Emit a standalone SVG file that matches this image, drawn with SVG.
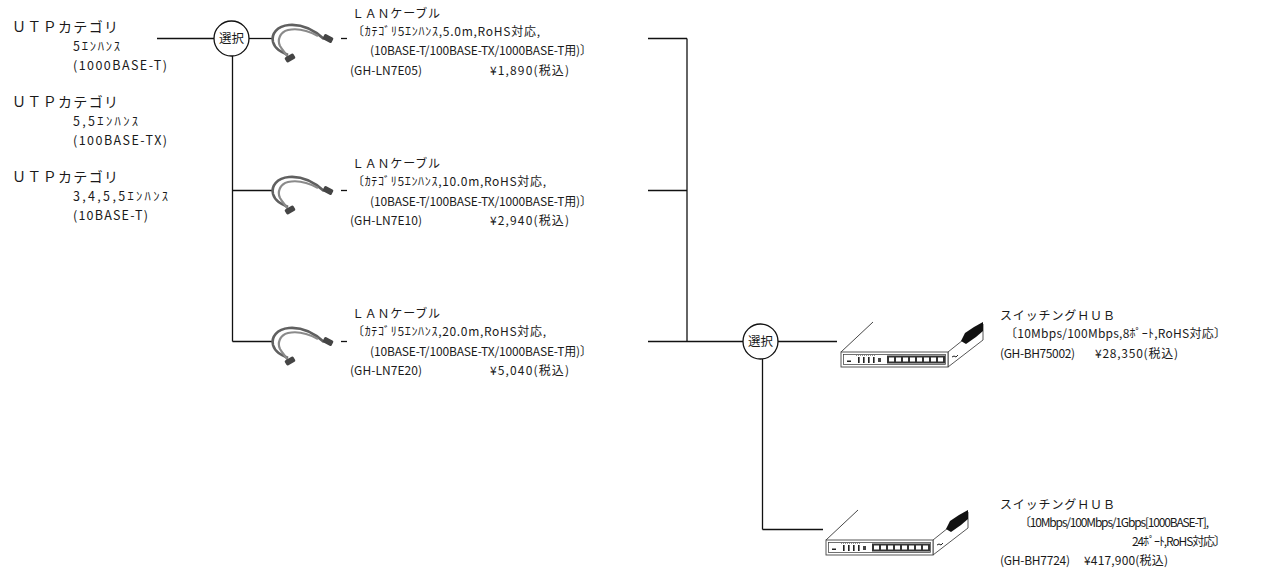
<svg xmlns="http://www.w3.org/2000/svg" width="1282" height="571" viewBox="0 0 1282 571">
<style>
  text { font-family: "Noto Sans CJK JP", "Noto Sans", sans-serif; fill: #1a1a1a; }
  .big { font-size: 14px; }
  .mid { font-size: 12.5px; }
  .sm { font-size: 12px; }
  .ln { stroke: #111; stroke-width: 1.3; fill: none; }
  .sel { fill: #fff; stroke: #111; stroke-width: 1.3; }
  .selt { font-size: 12.5px; text-anchor: middle; }
  .hb { fill: #fff; stroke: #444; stroke-width: 0.9; }
</style>
<defs>
  <filter id="soft" x="-10%" y="-10%" width="120%" height="120%">
    <feGaussianBlur stdDeviation="0.55"/>
  </filter>
  <g id="cableIcon" filter="url(#soft)">
    <path d="M324 39 C313 29 301 24 289 25 C277 26 271 34 273 42 C275 49 281 52 288 55" stroke="#606060" stroke-width="2.6" fill="none"/>
    <path d="M318 36 C307 30 297 28 288 30 C280 32 277 40 280 46 C283 51 287 55 289 59" stroke="#8a8a8a" stroke-width="2.2" fill="none"/>
    <rect x="323" y="35.5" width="10" height="6" rx="1.5" transform="rotate(28 328 38.5)" fill="#444"/>
    <rect x="285" y="55" width="10" height="6" rx="1.5" transform="rotate(-30 290 58)" fill="#444"/>
  </g>
  <g id="hubIcon">
    <line x1="841" y1="352" x2="873" y2="322" stroke="#333" stroke-width="0.9"/>
    <polygon class="hb" points="948,352 983,324 983,340 948,367"/>
    <polygon points="961,341 965,333 974,327 983,322 983,331 976,337 966,344" fill="#111"/>
    <path d="M952 357 l2 -1 l2 1 l2 -2" stroke="#222" stroke-width="1" fill="none"/>
    <rect class="hb" x="841" y="352" width="107" height="15"/>
    <rect x="843.5" y="354.5" width="102" height="10" fill="none" stroke="#333" stroke-width="0.7"/>
    <rect x="847" y="360.5" width="4" height="1.5" fill="#222"/>
    <line x1="856" y1="355.5" x2="876" y2="355.5" stroke="#777" stroke-width="0.8" stroke-dasharray="1 1"/>
    <rect x="858" y="357" width="1.6" height="6" fill="#222"/>
    <rect x="863" y="357" width="1.6" height="6" fill="#222"/>
    <rect x="868" y="357" width="1.6" height="6" fill="#222"/>
    <rect x="873" y="357" width="1.6" height="6" fill="#222"/>
    <rect x="878" y="358" width="3" height="4" fill="#444"/>
    <rect x="887" y="355.5" width="58" height="8" fill="#333"/>
    <g fill="#fff">
      <rect x="889" y="357.5" width="5" height="4"/>
      <rect x="896" y="357.5" width="5" height="4"/>
      <rect x="903" y="357.5" width="5" height="4"/>
      <rect x="910" y="357.5" width="5" height="4"/>
      <rect x="917" y="357.5" width="5" height="4"/>
      <rect x="924" y="357.5" width="5" height="4"/>
      <rect x="931" y="357.5" width="5" height="4"/>
      <rect x="938" y="357.5" width="5" height="4"/>
    </g>
  </g>
</defs>

<g id="connectors">
  <line class="ln" x1="157" y1="38.5" x2="214" y2="38.5"/>
  <line class="ln" x1="249" y1="38.5" x2="272" y2="38.5"/>
  <line class="ln" x1="341" y1="38.5" x2="347" y2="38.5"/>
  <line class="ln" x1="232.5" y1="55" x2="232.5" y2="341.5"/>
  <line class="ln" x1="232.5" y1="190.5" x2="272" y2="190.5"/>
  <line class="ln" x1="341" y1="190.5" x2="347" y2="190.5"/>
  <line class="ln" x1="232.5" y1="341.5" x2="272" y2="341.5"/>
  <line class="ln" x1="341" y1="341.5" x2="347" y2="341.5"/>
  <line class="ln" x1="648" y1="38.5" x2="687" y2="38.5"/>
  <line class="ln" x1="648" y1="190.5" x2="687" y2="190.5"/>
  <line class="ln" x1="687" y1="38.5" x2="687" y2="341.5"/>
  <line class="ln" x1="648" y1="341.5" x2="743" y2="341.5"/>
  <line class="ln" x1="778" y1="341.5" x2="837" y2="341.5"/>
  <line class="ln" x1="762.5" y1="358" x2="762.5" y2="529.5"/>
  <line class="ln" x1="762.5" y1="529.5" x2="823" y2="529.5"/>
</g>

<g id="utp1">
  <text class="big" x="12" y="32" textLength="106">ＵＴＰカテゴリ</text>
  <text class="mid" x="73" y="51" textLength="47">5ｴﾝﾊﾝｽ</text>
  <text class="mid" x="73" y="70" textLength="94">(1000BASE-T)</text>
</g>
<g id="utp2">
  <text class="big" x="12" y="107" textLength="106">ＵＴＰカテゴリ</text>
  <text class="mid" x="73" y="126" textLength="65">5,5ｴﾝﾊﾝｽ</text>
  <text class="mid" x="73" y="145" textLength="94">(100BASE-TX)</text>
</g>
<g id="utp3">
  <text class="big" x="12" y="182" textLength="106">ＵＴＰカテゴリ</text>
  <text class="mid" x="73" y="201" textLength="95">3,4,5,5ｴﾝﾊﾝｽ</text>
  <text class="mid" x="73" y="220" textLength="75">(10BASE-T)</text>
</g>

<g id="select1">
  <circle class="sel" cx="231.5" cy="38.5" r="17.5"/>
  <text class="selt" x="231.5" y="43">選択</text>
</g>

<g id="cable1">
  <use href="#cableIcon"/>
  <text class="sm" x="352" y="18" textLength="88">ＬＡＮケーブル</text>
  <text class="sm" x="352" y="36" textLength="188">〔ｶﾃｺﾞﾘ5ｴﾝﾊﾝｽ,5.0m,RoHS対応,</text>
  <text class="sm" x="370" y="55" textLength="222">(10BASE-T/100BASE-TX/1000BASE-T用)〕</text>
  <text class="sm" x="350" y="75" textLength="72">(GH-LN7E05)</text>
  <text class="sm" x="490" y="75" textLength="79">¥1,890(税込)</text>
</g>
<g id="cable2">
  <use href="#cableIcon" transform="translate(0,152)"/>
  <text class="sm" x="352" y="168" textLength="88">ＬＡＮケーブル</text>
  <text class="sm" x="352" y="186" textLength="194">〔ｶﾃｺﾞﾘ5ｴﾝﾊﾝｽ,10.0m,RoHS対応,</text>
  <text class="sm" x="370" y="206" textLength="222">(10BASE-T/100BASE-TX/1000BASE-T用)〕</text>
  <text class="sm" x="350" y="225" textLength="72">(GH-LN7E10)</text>
  <text class="sm" x="490" y="225" textLength="79">¥2,940(税込)</text>
</g>
<g id="cable3">
  <use href="#cableIcon" transform="translate(0,303)"/>
  <text class="sm" x="352" y="318" textLength="88">ＬＡＮケーブル</text>
  <text class="sm" x="352" y="336" textLength="194">〔ｶﾃｺﾞﾘ5ｴﾝﾊﾝｽ,20.0m,RoHS対応,</text>
  <text class="sm" x="370" y="356" textLength="222">(10BASE-T/100BASE-TX/1000BASE-T用)〕</text>
  <text class="sm" x="350" y="375" textLength="72">(GH-LN7E20)</text>
  <text class="sm" x="490" y="375" textLength="79">¥5,040(税込)</text>
</g>

<g id="select2">
  <circle class="sel" cx="760.5" cy="341.5" r="17.5"/>
  <text class="selt" x="760.5" y="346">選択</text>
</g>

<g id="hub1">
  <use href="#hubIcon"/>
  <text class="sm" x="1000" y="320" textLength="115">スイッチングＨＵＢ</text>
  <text class="sm" x="1005" y="338" textLength="221">〔10Mbps/100Mbps,8ﾎﾟｰﾄ,RoHS対応〕</text>
  <text class="sm" x="1000" y="358" textLength="75">(GH-BH75002)</text>
  <text class="sm" x="1095" y="358" textLength="83">¥28,350(税込)</text>
</g>
<g id="hub2">
  <use href="#hubIcon" transform="translate(-15,188)"/>
  <text class="sm" x="1000" y="509" textLength="115">スイッチングＨＵＢ</text>
  <text class="sm" x="1019" y="527" textLength="190">〔10Mbps/100Mbps/1Gbps[1000BASE-T],</text>
  <text class="sm" x="1132" y="546" textLength="94">24ﾎﾟｰﾄ,RoHS対応〕</text>
  <text class="sm" x="1000" y="565" textLength="70">(GH-BH7724)</text>
  <text class="sm" x="1084" y="565" textLength="84">¥417,900(税込)</text>
</g>
</svg>
